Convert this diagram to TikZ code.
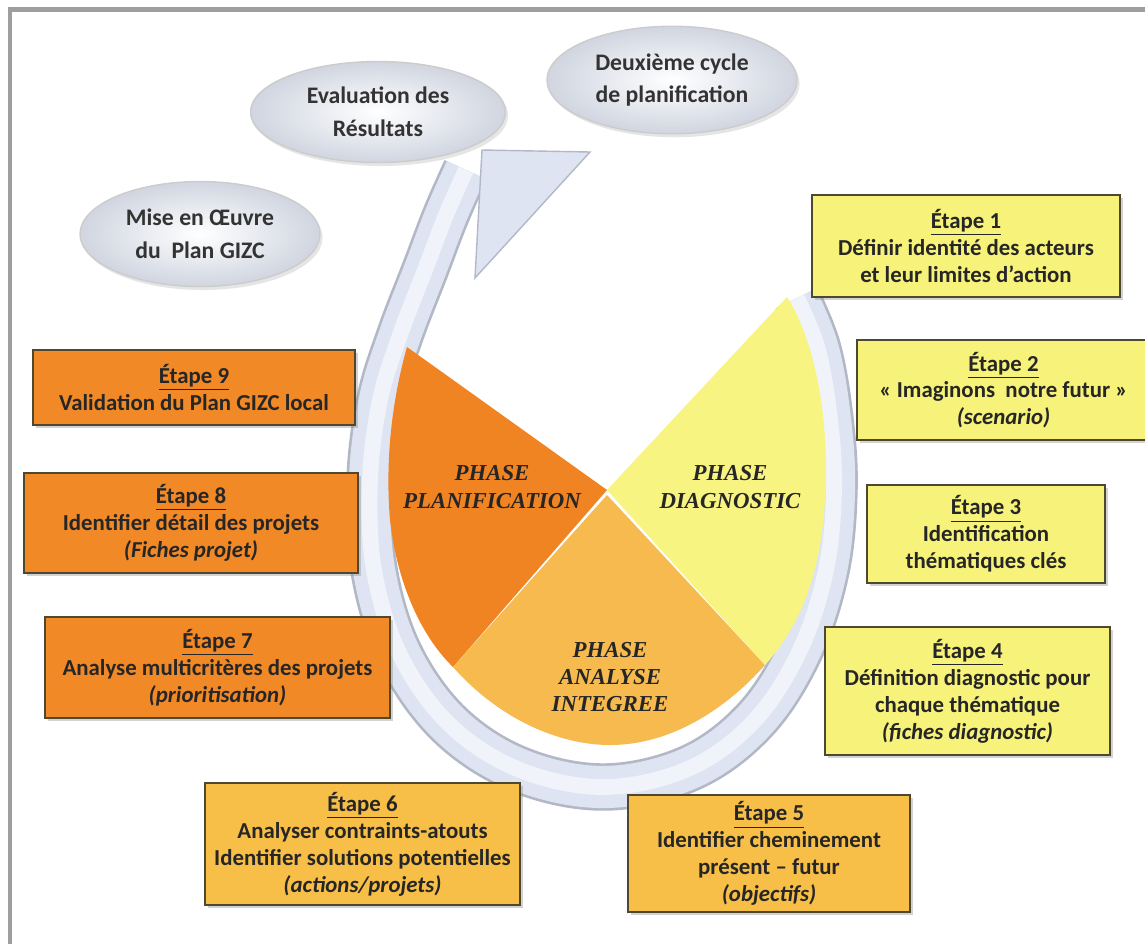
\documentclass[tikz,border=0pt]{standalone}
\usepackage{fontspec}
\setmainfont{Carlito}
\newfontfamily\phasefont{Liberation Serif}
\usetikzlibrary{shapes.geometric,shadows}

\definecolor{jaune}{RGB}{247,242,122}
\definecolor{orangeclair}{RGB}{248,191,72}
\definecolor{orangefonce}{RGB}{241,137,38}
\definecolor{pieorange}{RGB}{240,132,34}
\definecolor{pieclair}{RGB}{246,186,78}
\definecolor{piejaune}{RGB}{247,244,130}
\definecolor{anneau}{RGB}{222,228,241}
\definecolor{anneaubord}{RGB}{178,184,198}
\definecolor{bullefond}{RGB}{208,213,224}
\definecolor{bordure}{RGB}{78,72,48}

\begin{document}
\begin{tikzpicture}[x=0.02cm, y=-0.02cm,
    etape/.style={rectangle,
        draw=bordure,
        line width=1.3pt,
        align=center,
        text=black!85,
        font=\bfseries\fontsize{13}{15.3}\selectfont,
        drop shadow={shadow xshift=1.5pt, shadow yshift=-1.5pt, opacity=0.35}},
    bulle/.style={ellipse,
        draw=black!20,
        line width=0.8pt,
        inner color=white,
        outer color=bullefond,
        align=center,
        text=black!80,
        font=\bfseries\fontsize{13.5}{18.7}\selectfont,
        drop shadow={shadow xshift=1.5pt, shadow yshift=-2pt, opacity=0.2}},
    phase/.style={align=center,
        text=black!85,
        font=\phasefont\bfseries\itshape\fontsize{13}{15.5}\selectfont}]

    \useasboundingbox (0,0) rectangle (1145,944);
    \fill[white] (0,0) rectangle (1145,944);
    \draw[line width=2.5pt, black!38] (10,944) -- (10,9.5) -- (1145,9.5);

    % anneau + fleche
    \foreach \lw/\col in {27pt/anneaubord, 24pt/anneau, 9pt/white!55!anneau}
        \draw[line width=\lw, \col, line cap=butt]
            plot[smooth, tension=0.6] coordinates {(797,298) (818,350) (830,420) (834,490) (826,570) (800,650) (755,720) (690,768) (605,787) (520,770) (450,725) (400,655) (374,570) (370,480) (380,400) (400,335) (425,270) (446,215) (466,170)};
    \filldraw[fill=anneau, draw=anneaubord, line width=0.8pt] (482,150) -- (590,152) -- (475,278) -- cycle;

    % camembert
    \fill[pieorange] (607,490) -- (407,347) .. controls (392,400) and (385,460) .. (390,520)
        .. controls (398,590) and (425,640) .. (453,667) -- cycle;
    \fill[pieclair] (607,495) -- (453,667) .. controls (500,720) and (560,745) .. (610,745)
        .. controls (670,745) and (725,710) .. (765,665) -- cycle;
    \fill[piejaune] (607,490) -- (787,297) .. controls (815,340) and (830,420) .. (825,500)
        .. controls (820,580) and (798,628) .. (765,665) -- cycle;

    \node[phase] (P1) at (492,487) {PHASE\\PLANIFICATION};
    \node[phase] (P2) at (730,487) {PHASE\\DIAGNOSTIC};
    \node[phase] (P3) at (610,677) {PHASE\\ANALYSE\\INTEGREE};

    % bulles
    \node[bulle, minimum width=5.0cm, minimum height=2.15cm] (B1) at (672,80) {Deuxième cycle\\de planification};
    \node[bulle, minimum width=5.1cm, minimum height=2.02cm] (B2) at (378,112) {Evaluation des\\Résultats};
    \node[bulle, minimum width=4.8cm, minimum height=2.1cm] (B3) at (200,234) {Mise en Œuvre\\du~~Plan GIZC};

    % etapes
    \node[etape, fill=jaune, minimum width=6.16cm, minimum height=2.04cm] (E1) at (966,246)
        {\underline{Étape 1}\\Définir identité des acteurs\\et leur limites d'action};
    \node[etape, fill=jaune, minimum width=5.86cm, minimum height=2.0cm] (E2) at (1003.5,390)
        {\underline{Étape 2}\\« Imaginons~~notre futur »\\\textit{(scenario)}};
    \node[etape, fill=jaune, minimum width=4.76cm, minimum height=1.96cm] (E3) at (986,534)
        {\underline{Étape 3}\\Identification\\thématiques clés};
    \node[etape, fill=jaune, minimum width=5.7cm, minimum height=2.56cm] (E4) at (967.5,691)
        {\underline{Étape 4}\\Définition diagnostic pour\\chaque thématique\\\textit{(fiches diagnostic)}};
    \node[etape, fill=orangeclair, minimum width=5.64cm, minimum height=2.34cm] (E5) at (769,853.5)
        {\underline{Étape 5}\\Identifier cheminement\\présent – futur\\\textit{(objectifs)}};
    \node[etape, fill=orangeclair, minimum width=6.3cm, minimum height=2.44cm] (E6) at (362.5,844)
        {\underline{Étape 6}\\Analyser contraints-atouts\\Identifier solutions potentielles\\\textit{(actions/projets)}};
    \node[etape, fill=orangefonce, minimum width=6.9cm, minimum height=2.02cm] (E7) at (217.5,667.5)
        {\underline{Étape 7}\\Analyse multicritères des projets\\\textit{(prioritisation)}};
    \node[etape, fill=orangefonce, minimum width=6.68cm, minimum height=2.0cm] (E8) at (191,523)
        {\underline{Étape 8}\\Identifier détail des projets\\\textit{(Fiches projet)}};
    \node[etape, fill=orangefonce, minimum width=6.44cm, minimum height=1.5cm] (E9) at (194,387.5)
        {\underline{Étape 9}\\Validation du Plan GIZC local};

\end{tikzpicture}
\end{document}
